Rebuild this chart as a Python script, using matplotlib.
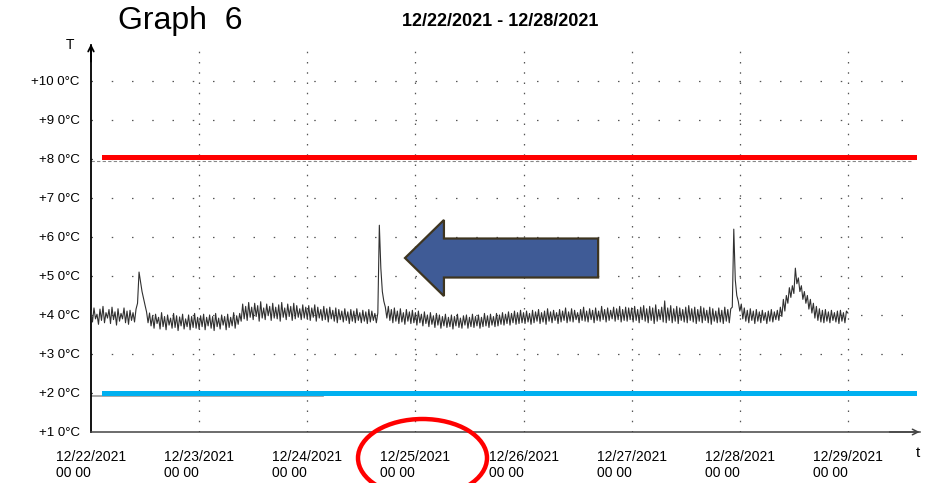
import numpy as np
import matplotlib
matplotlib.use("Agg")
import matplotlib.pyplot as plt
from matplotlib.patches import Ellipse, FancyArrow

plt.rcParams['font.family'] = ['Liberation Sans', 'DejaVu Sans']

# logger readings, one every 20 min (72 per day), starting 12/22 00:00
day0 = [4.10, 3.82, 4.18, 3.90, 4.02, 3.76, 4.15, 3.86, 4.22, 3.80, 4.06, 3.92,
        4.14, 3.78, 4.20, 3.88, 4.08, 3.74, 4.16, 3.84, 4.04, 3.90, 4.18, 3.80,
        4.10, 3.76, 4.12, 3.86, 4.06, 3.82, 4.15, 4.30, 5.10, 4.85, 4.60, 4.42,
        4.25, 4.08, 3.80, 4.05, 3.72, 3.98, 3.66, 4.02, 3.78, 3.94, 3.64, 4.06,
        3.70, 3.96, 3.62, 4.00, 3.74, 3.92, 3.66, 4.04, 3.68, 3.98, 3.60, 3.95,
        3.72, 4.02, 3.64, 3.90, 3.70, 4.00, 3.62, 3.96, 3.68, 4.04, 3.66, 3.94]
day1 = [3.64, 3.98, 3.70, 4.02, 3.62, 3.94, 3.72, 4.00, 3.66, 3.96, 3.60, 4.04,
        3.70, 3.92, 3.64, 4.00, 3.74, 3.96, 3.62, 4.02, 3.68, 3.94, 3.72, 4.06,
        3.66, 3.98, 3.76, 4.04, 3.84, 4.28, 3.90, 4.22, 3.86, 4.32, 3.94, 4.20,
        3.88, 4.30, 3.96, 4.24, 3.84, 4.34, 3.92, 4.18, 3.88, 4.28, 3.98, 4.22,
        3.86, 4.30, 3.92, 4.20, 3.90, 4.26, 3.84, 4.32, 3.94, 4.18, 3.88, 4.28,
        3.96, 4.22, 3.86, 4.30, 3.90, 4.24, 3.94, 4.16, 3.88, 4.26, 3.92, 4.20]
day2 = [3.90, 4.24, 3.86, 4.18, 3.94, 4.26, 3.84, 4.20, 3.92, 4.14, 3.86, 4.22,
        3.88, 4.16, 3.82, 4.20, 3.90, 4.12, 3.84, 4.18, 3.80, 4.14, 3.88, 4.10,
        3.82, 4.16, 3.86, 4.08, 3.78, 4.14, 3.84, 4.10, 3.80, 4.16, 3.86, 4.06,
        3.80, 4.12, 3.84, 4.08, 3.78, 4.14, 3.82, 4.10, 3.86, 4.04, 3.80, 4.05,
        6.30, 5.20, 4.60, 4.35, 4.20, 3.92, 4.22, 3.86, 4.14, 3.80, 4.18, 3.84,
        4.10, 3.78, 4.16, 3.82, 4.06, 3.76, 4.14, 3.84, 4.08, 3.78, 4.12, 3.80]
day3 = [4.06, 3.74, 4.10, 3.80, 4.02, 3.72, 4.08, 3.78, 4.00, 3.70, 4.06, 3.76,
        3.98, 3.68, 4.04, 3.74, 4.00, 3.66, 3.96, 3.72, 4.02, 3.68, 3.94, 3.70,
        4.00, 3.64, 3.96, 3.72, 4.02, 3.68, 3.92, 3.66, 3.98, 3.74, 4.00, 3.66,
        3.94, 3.70, 4.02, 3.68, 3.96, 3.72, 4.00, 3.66, 3.94, 3.70, 4.04, 3.72,
        3.98, 3.68, 4.02, 3.74, 3.96, 3.70, 4.04, 3.72, 4.00, 3.76, 4.06, 3.74,
        4.02, 3.78, 4.08, 3.74, 4.04, 3.80, 4.10, 3.76, 4.06, 3.78, 4.12, 3.80]
day4 = [4.06, 3.78, 4.10, 3.82, 4.04, 3.76, 4.12, 3.80, 4.08, 3.84, 4.14, 3.78,
        4.06, 3.82, 4.10, 3.76, 4.16, 3.84, 4.08, 3.80, 4.12, 3.86, 4.06, 3.78,
        4.14, 3.82, 4.10, 3.86, 4.18, 3.80, 4.08, 3.84, 4.16, 3.82, 4.12, 3.88,
        4.06, 3.80, 4.14, 3.86, 4.20, 3.84, 4.10, 3.82, 4.16, 3.88, 4.12, 3.80,
        4.18, 3.86, 4.10, 3.84, 4.22, 3.88, 4.14, 3.82, 4.18, 3.86, 4.12, 3.90,
        4.20, 3.84, 4.16, 3.88, 4.22, 3.82, 4.14, 3.86, 4.20, 3.84, 4.18, 3.88]
day5 = [4.18, 3.82, 4.22, 3.86, 4.14, 3.80, 4.20, 3.88, 4.24, 3.84, 4.16, 3.80,
        4.22, 3.86, 4.18, 3.78, 4.26, 3.84, 4.14, 3.88, 4.20, 3.82, 4.36, 3.80,
        4.18, 3.86, 4.24, 3.80, 4.16, 3.84, 4.22, 3.78, 4.18, 3.86, 4.14, 3.82,
        4.20, 3.80, 4.24, 3.86, 4.16, 3.82, 4.20, 3.78, 4.14, 3.84, 4.22, 3.80,
        4.18, 3.86, 4.12, 3.80, 4.20, 3.76, 4.16, 3.84, 4.10, 3.80, 4.18, 3.82,
        4.12, 3.78, 4.20, 3.84, 4.14, 3.80, 4.16, 4.20, 6.20, 4.90, 4.50, 4.35]
day6 = [4.10, 4.28, 3.90, 4.18, 3.84, 4.12, 3.80, 4.16, 3.86, 4.10, 3.78, 4.14,
        3.84, 4.08, 3.80, 4.12, 3.86, 4.06, 3.78, 4.10, 3.84, 4.14, 3.82, 4.08,
        3.88, 4.12, 3.86, 4.20, 3.96, 4.40, 4.10, 4.50, 4.30, 4.70, 4.45, 4.75,
        4.55, 5.20, 4.80, 4.95, 4.60, 4.75, 4.40, 4.60, 4.30, 4.50, 4.15, 4.40,
        4.05, 4.30, 3.92, 4.22, 3.86, 4.16, 3.82, 4.12, 3.80, 4.14, 3.84, 4.08,
        3.80, 4.12, 3.86, 4.06, 3.82, 4.10, 3.78, 4.12, 3.84, 4.06, 3.80, 4.10,
        4.05]

temps = np.array(day0 + day1 + day2 + day3 + day4 + day5 + day6)
t = np.arange(len(temps)) / 72.0

upper_limit = 8.05
lower_limit = 2.0

date_labels = ["12/22/2021\n00 00", "12/23/2021\n00 00", "12/24/2021\n00 00",
               "12/25/2021\n00 00", "12/26/2021\n00 00", "12/27/2021\n00 00",
               "12/28/2021\n00 00", "12/29/2021\n00 00"]
temp_ticks = [1, 2, 3, 4, 5, 6, 7, 8, 9, 10]
temp_labels = ["+1 0°C", "+2 0°C", "+3 0°C", "+4 0°C", "+5 0°C",
               "+6 0°C", "+7 0°C", "+8 0°C", "+9 0°C", "+10 0°C"]

fig = plt.figure(figsize=(9.35, 4.83), dpi=100)
ax = fig.add_axes([0.0973, 0.1056, 0.8866, 0.8012])
ax.set_xlim(0, 7.666)
ax.set_ylim(1, 10.92)

# sparse dotted grid like the printed chart
for d in range(1, 8):
    ax.axvline(d, color='#555555', lw=0.9, ls=(0, (1.2, 7)), zorder=1)
for v in temp_ticks[1:]:
    ax.axhline(v, color='#555555', lw=0.9, ls=(0, (1.2, 15)), zorder=1)
ax.axhline(7.95, xmin=0, xmax=0.99, color='#888888', lw=0.8, ls=(0, (3, 2)), zorder=1)
ax.axhline(1.93, xmin=0, xmax=0.28, color='#999999', lw=1.2, zorder=1)

ax.plot(t, temps, color='#303030', lw=0.8, zorder=3)

ax.axhline(upper_limit, xmin=0.0157, xmax=0.993, color='#ff0000', lw=3.6, zorder=4)
ax.axhline(lower_limit, xmin=0.0157, xmax=0.993, color='#00b0f0', lw=3.6, zorder=4)

arrow = FancyArrow(4.69, 5.46, -1.786, 0, width=1.0, head_width=1.95,
                   head_length=0.36, length_includes_head=True,
                   facecolor='#3f5b96', edgecolor='#3e3520', lw=1.6, zorder=5)
ax.add_patch(arrow)

ax.spines['top'].set_visible(False)
ax.spines['right'].set_visible(False)
ax.spines['left'].set_linewidth(1.3)
ax.spines['bottom'].set_linewidth(1.1)
ax.spines['bottom'].set_color('#444444')

ax.set_xticks(range(8))
ax.set_xticklabels(date_labels, fontsize=10, multialignment='left')
ax.set_yticks(temp_ticks)
ax.set_yticklabels(temp_labels, fontsize=9.5)
ax.tick_params(axis='both', length=0)
ax.tick_params(axis='y', pad=8)
ax.tick_params(axis='x', pad=13)

# axis arrowheads
ax.annotate('', xy=(0, 1.01), xytext=(0, 0.95), xycoords='axes fraction',
            arrowprops=dict(arrowstyle='->', lw=1.3, color='black'))
ax.annotate('', xy=(1.003, 0), xytext=(0.96, 0), xycoords='axes fraction',
            arrowprops=dict(arrowstyle='->', lw=1.1, color='#444444'))

fig.text(70 / 935, 1 - 45 / 483, "T", fontsize=10, ha='center', va='center')
fig.text(918 / 935, 1 - 453 / 483, "t", fontsize=11, ha='center', va='center')

fig.text(118 / 935, 1 - 21 / 483, "Graph  6", fontsize=23, ha='left', va='center')
fig.text(500 / 935, 1 - 21 / 483, "12/22/2021 - 12/28/2021", fontsize=13,
         fontweight='bold', ha='center', va='center')

ring = Ellipse((422.5 / 935, 1 - 458 / 483), 129 / 935, 78 / 483,
               transform=fig.transFigure, fill=False, edgecolor='#ff0000',
               lw=3.2, clip_on=False, zorder=6)
fig.patches.append(ring)

fig.savefig("out.png", dpi=100)
